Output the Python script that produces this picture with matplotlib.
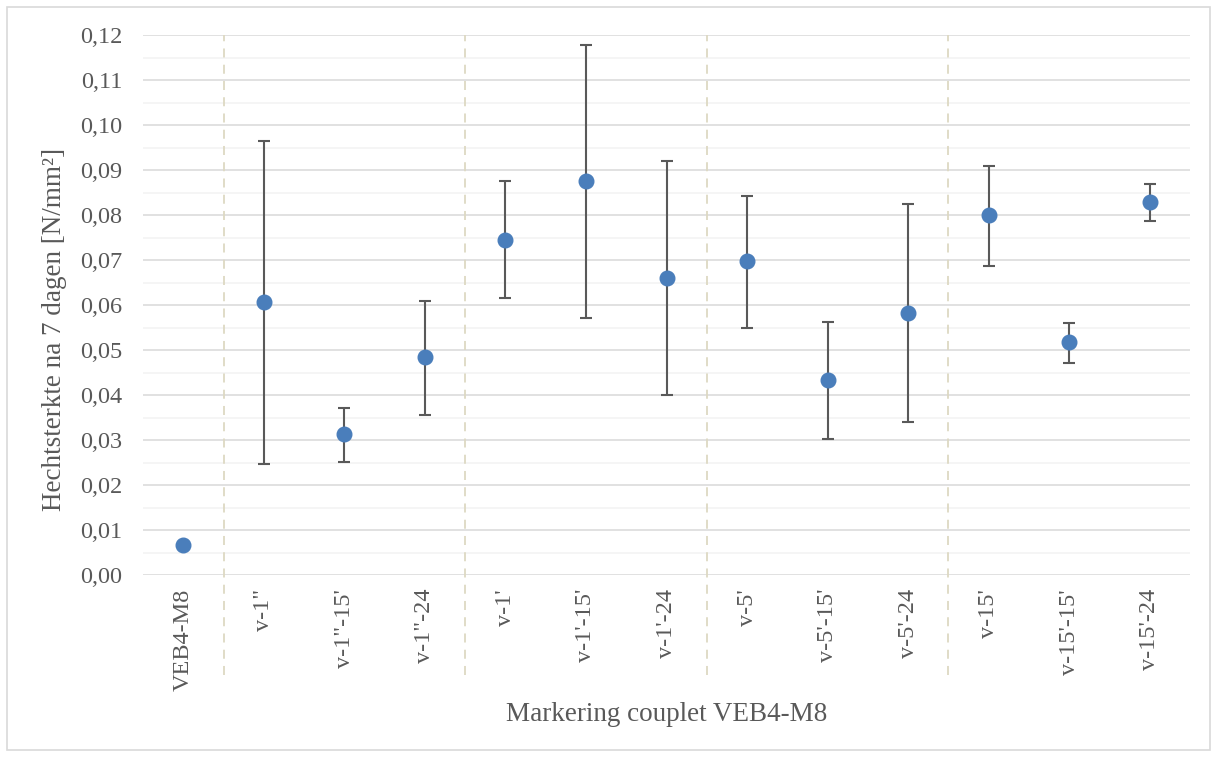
import numpy as np
import matplotlib
matplotlib.use('Agg')
import matplotlib.pyplot as plt
from matplotlib.patches import Rectangle

# data
labels = ['VEB4-M8', 'v-1"', 'v-1"-15\'', 'v-1"-24', "v-1'", "v-1'-15'", "v-1'-24",
          "v-5'", "v-5'-15'", "v-5'-24", "v-15'", "v-15'-15'", "v-15'-24"]
means = [0.0067, 0.0607, 0.0313, 0.0484, 0.0745, 0.0875, 0.0660,
         0.0697, 0.0434, 0.0582, 0.0799, 0.0517, 0.0828]
err_top = [np.nan, 0.0965, 0.0371, 0.0610, 0.0875, 0.1178, 0.0919,
           0.0843, 0.0563, 0.0824, 0.0909, 0.0561, 0.0869]
err_bottom = [np.nan, 0.0247, 0.0252, 0.0356, 0.0615, 0.0571, 0.0401,
              0.0549, 0.0303, 0.0340, 0.0687, 0.0471, 0.0786]
group_sizes = [1, 3, 3, 3, 3]

text_color = '#595959'
plt.rcParams['font.family'] = ['Liberation Serif', 'DejaVu Serif']

fig = plt.figure(figsize=(12.13, 7.58), dpi=100)
ax = fig.add_axes([143 / 1213, 1 - 575 / 758, 1047 / 1213, 540 / 758])

x = np.arange(len(labels))
means = np.array(means)
lower = means - np.array(err_bottom)
upper = np.array(err_top) - means

ax.errorbar(x, means, yerr=[lower, upper], fmt='none', ecolor='#595959',
            elinewidth=1.5, capsize=4, capthick=1.5, zorder=3)
ax.plot(x, means, 'o', color='#4A7EBB', markersize=10.5, zorder=4)

ax.set_xlim(-0.5, len(labels) - 0.5)
ax.set_ylim(0, 0.12)
yt = np.arange(0, 0.1201, 0.01)
ax.set_yticks(yt)
ax.set_yticks(np.arange(0.005, 0.12, 0.01), minor=True)
ax.set_yticklabels(['{:.2f}'.format(v).replace('.', ',') for v in yt])
ax.set_xticks(x)
ax.set_xticklabels(labels, rotation=90, va='top', ha='center')

ax.grid(axis='y', which='major', color='#D9D9D9', lw=1.1, zorder=0)
ax.grid(axis='y', which='minor', color='#F2F2F2', lw=1.1, zorder=0)
ax.set_axisbelow(True)
for s in ax.spines.values():
    s.set_visible(False)
ax.tick_params(axis='both', which='both', length=0, labelsize=17.5, colors=text_color)
ax.tick_params(axis='y', pad=15)
ax.tick_params(axis='x', pad=10)

# group separators
for b in np.cumsum(group_sizes)[:-1]:
    ax.axvline(b - 0.5, ymin=-0.185, ymax=1.0, color='#DDD9C3', lw=1.3,
               ls=(0, (5, 4)), clip_on=False, zorder=1)

ax.set_xlabel('Markering couplet VEB4-M8', fontsize=19.5, color=text_color)
ax.xaxis.set_label_coords(0.5, -0.236)
ax.set_ylabel('Hechtsterkte na 7 dagen [N/mm²]', fontsize=19.5, color=text_color)
ax.yaxis.label.set_va('center')
ax.yaxis.set_label_coords(-0.085, 0.454)

fig.patches.append(Rectangle((7 / 1213, 8 / 758), 1203 / 1213, 743 / 758,
                             transform=fig.transFigure, fill=False,
                             edgecolor='#D9D9D9', lw=1.2))

fig.savefig('out.png', dpi=100)
